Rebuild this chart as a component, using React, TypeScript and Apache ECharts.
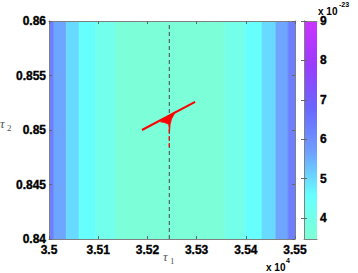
import React, { useEffect, useRef } from "react";
import * as echarts from "echarts";

// x in units of 1e4, y plain, colour values in units of 1e-23
const xTicks = [3.5, 3.51, 3.52, 3.53, 3.54, 3.55];
const yTicks = [0.84, 0.845, 0.85, 0.855, 0.86];
const cbTicks = [4, 5, 6, 7, 8, 9];
const cbMin = 3.47;
const cbMax = 9;
const cmapColors = ["#7fffd4", "#66ffff", "#6f9fff", "#6a66ff", "#9a3cff", "#cc33ff"];

// vertical contour stripes (x edges) and their levels
const stripeEdges = [3.5, 3.501, 3.5035, 3.5061, 3.5095, 3.5136, 3.5358, 3.5399, 3.5433, 3.5461, 3.5486, 3.55];
const stripeLevels = [6.3, 5.6, 5.0, 4.55, 4.05, 3.6, 4.0, 4.55, 5.0, 5.6, 6.3];

// red trajectory
const redLineX = [3.5189, 3.5297];
const redLineY = [0.85, 0.85257];
const blobX = [3.52266, 3.52571, 3.5249, 3.52462, 3.52449, 3.52436, 3.52348];
const blobY = [0.85075, 0.85168, 0.85101, 0.85052, 0.84982, 0.85052, 0.85068];
const markerX = 3.52445;
const redDashY = [0.84844, 0.85018];

const FONT = "Liberation Sans";

export default function App() {
  const ref = useRef<HTMLDivElement>(null);
  useEffect(() => {
    if (!ref.current) return;
    const chart = echarts.init(ref.current, null, { renderer: "svg" });
    const stripes = stripeLevels.map((lv, i) => [stripeEdges[i], stripeEdges[i + 1], lv]);
    const tickLabel = {
      fontFamily: FONT,
      fontWeight: 700,
      fontSize: 12,
      color: "#000",
      textBorderColor: "#000",
      textBorderWidth: 0.35,
    };
    const axisLine = { show: true, lineStyle: { color: "#808080", width: 1 } };
    const tick = { show: true, inside: true, length: 3, lineStyle: { color: "#666" } };
    const gradStops = cmapColors
      .map((c, i) => ({ offset: 1 - i / (cmapColors.length - 1), color: c }))
      .reverse();
    const boldText = (size: number) => `bold ${size}px "${FONT}"`;

    chart.setOption({
      animation: false,
      grid: [
        { left: 49, top: 21, width: 246, height: 218 },
        { left: 304, top: 21, width: 13, height: 218 },
      ],
      visualMap: {
        show: false,
        type: "continuous",
        min: cbMin,
        max: cbMax,
        dimension: 2,
        seriesIndex: 0,
        inRange: { color: cmapColors },
      },
      xAxis: [
        {
          gridIndex: 0, type: "value", min: 3.5, max: 3.55, interval: 0.01, position: "bottom", z: 10,
          axisLine, axisTick: tick, splitLine: { show: false },
          axisLabel: { ...tickLabel, margin: 5, formatter: (v: number) => String(Number(v.toFixed(2))) },
        },
        {
          gridIndex: 0, type: "value", min: 3.5, max: 3.55, interval: 0.01, position: "top", z: 10,
          axisLine, axisTick: tick, splitLine: { show: false }, axisLabel: { show: false },
        },
        {
          gridIndex: 1, type: "value", min: 0, max: 1, position: "bottom", z: 10,
          axisLine, axisTick: { show: false }, splitLine: { show: false }, axisLabel: { show: false },
        },
        {
          gridIndex: 1, type: "value", min: 0, max: 1, position: "top", z: 10,
          axisLine, axisTick: { show: false }, splitLine: { show: false }, axisLabel: { show: false },
        },
      ],
      yAxis: [
        {
          gridIndex: 0, type: "value", min: 0.84, max: 0.86, interval: 0.005, position: "left", z: 10,
          axisLine, axisTick: tick, splitLine: { show: false },
          axisLabel: { ...tickLabel, margin: 3, formatter: (v: number) => String(Number(v.toFixed(3))) },
        },
        {
          gridIndex: 0, type: "value", min: 0.84, max: 0.86, interval: 0.005, position: "right", z: 10,
          axisLine, axisTick: tick, splitLine: { show: false }, axisLabel: { show: false },
        },
        {
          gridIndex: 1, type: "value", min: cbMin, max: cbMax, position: "right", z: 10,
          axisLine, axisTick: { ...tick, customValues: cbTicks }, splitLine: { show: false },
          axisLabel: { ...tickLabel, margin: 3, customValues: cbTicks, formatter: (v: number) => String(v) },
        },
        {
          gridIndex: 1, type: "value", min: cbMin, max: cbMax, position: "left", z: 10,
          axisLine, axisTick: { ...tick, customValues: cbTicks }, splitLine: { show: false },
          axisLabel: { show: false },
        },
      ],
      series: [
        {
          type: "custom",
          xAxisIndex: 0,
          yAxisIndex: 0,
          clip: true,
          encode: { x: [0, 1] },
          data: stripes,
          renderItem: (params: any, api: any) => {
            const p0 = api.coord([api.value(0), 0.86]);
            const p1 = api.coord([api.value(1), 0.84]);
            const c = api.visual("color");
            return {
              type: "rect",
              shape: { x: p0[0], y: p0[1], width: p1[0] - p0[0], height: p1[1] - p0[1] },
              style: { fill: c, stroke: c, lineWidth: 0.6 },
            };
          },
        },
        {
          type: "line",
          xAxisIndex: 0,
          yAxisIndex: 0,
          data: [[markerX, 0.84], [markerX, 0.86]],
          symbol: "none",
          lineStyle: { color: "#444", width: 1, type: [4, 3] },
          z: 3,
        },
        {
          type: "line",
          xAxisIndex: 0,
          yAxisIndex: 0,
          data: redDashY.map((y) => [markerX, y]),
          symbol: "none",
          lineStyle: { color: "#ff0000", width: 1.2, type: [4, 3] },
          z: 4,
        },
        {
          type: "line",
          xAxisIndex: 0,
          yAxisIndex: 0,
          data: redLineX.map((x, i) => [x, redLineY[i]]),
          symbol: "none",
          lineStyle: { color: "#ff0000", width: 2 },
          z: 5,
        },
        {
          type: "custom",
          xAxisIndex: 0,
          yAxisIndex: 0,
          z: 5,
          data: [[blobX[0], blobY[0]]],
          renderItem: (params: any, api: any) => {
            const pts = blobX.map((x, i) => api.coord([x, blobY[i]]));
            return {
              type: "polygon",
              shape: { points: pts },
              style: { fill: "#ff0000", stroke: "#ff0000", lineWidth: 0.8 },
            };
          },
        },
        {
          type: "custom",
          xAxisIndex: 2,
          yAxisIndex: 2,
          data: [[0, cbMax]],
          renderItem: (params: any, api: any) => {
            const p0 = api.coord([0, cbMax]);
            const p1 = api.coord([1, cbMin]);
            return {
              type: "rect",
              shape: { x: p0[0], y: p0[1], width: p1[0] - p0[0], height: p1[1] - p0[1] },
              style: { fill: new echarts.graphic.LinearGradient(0, 0, 0, 1, gradStops) },
            };
          },
        },
      ],
      graphic: [
        { type: "text", left: 266, top: 262, style: { text: "x 10", font: boldText(10), fill: "#000" } },
        { type: "text", left: 286, top: 257, style: { text: "4", font: boldText(7), fill: "#000" } },
        { type: "text", left: 318, top: 6, style: { text: "x 10", font: boldText(10), fill: "#000" } },
        { type: "text", left: 339, top: 1, style: { text: "-23", font: boldText(7), fill: "#000" } },
        { type: "text", left: 163, top: 250, style: { text: "τ", font: `italic 13px "Liberation Serif"`, fill: "#555" } },
        { type: "text", left: 170, top: 256, style: { text: "1", font: `9px "Liberation Serif"`, fill: "#555" } },
        { type: "text", left: 0, top: 117, style: { text: "τ", font: `italic 13px "Liberation Serif"`, fill: "#555" } },
        { type: "text", left: 7, top: 123, style: { text: "2", font: `9px "Liberation Serif"`, fill: "#555" } },
      ],
    });
    return () => chart.dispose();
  }, []);
  return (
    <div
      ref={ref}
      style={{ position: "fixed", left: 0, top: 0, width: 358, height: 273, background: "#fff" }}
    />
  );
}
